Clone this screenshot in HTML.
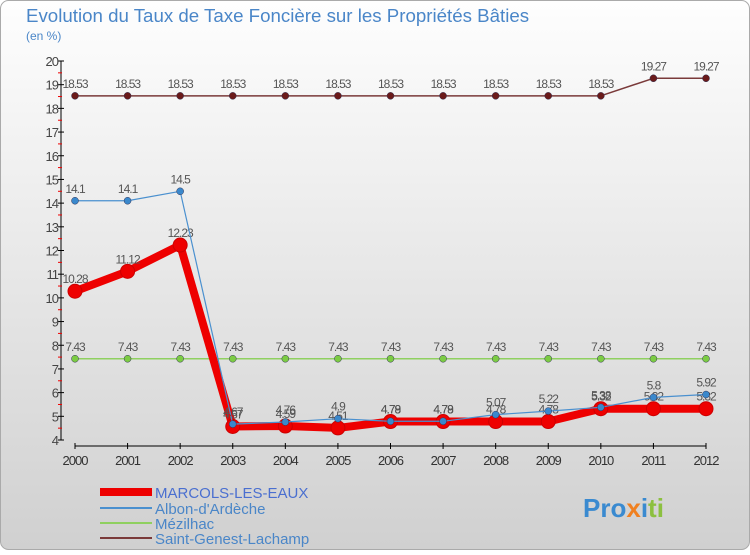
<!DOCTYPE html>
<html><head><meta charset="utf-8"><style>
body{margin:0;width:750px;height:550px;overflow:hidden;font-family:"Liberation Sans",sans-serif}
</style></head><body>
<svg id="c" width="750" height="550" xmlns="http://www.w3.org/2000/svg">
<defs><linearGradient id="bg" x1="0" y1="0" x2="0" y2="1"><stop offset="0" stop-color="#fefefe"/><stop offset="1" stop-color="#d0d0d0"/></linearGradient></defs>
<rect x="0.5" y="0.5" width="749" height="549" rx="8" fill="url(#bg)" stroke="#aaa"/>
<text x="26" y="22" font-size="18.7" fill="#4a86c8">Evolution du Taux de Taxe Foncière sur les Propriétés Bâties</text>
<text x="26" y="40" font-size="12" fill="#4a86c8">(en %)</text>
<g id="axes"></g><g id="series"></g>
<g>
<rect x="100" y="488" width="52" height="8" fill="#e00"/>
<text x="155" y="498" font-size="15" fill="#4a6fd0">MARCOLS-LES-EAUX</text>
<line x1="100" y1="508" x2="152" y2="508" stroke="#4a90cf" stroke-width="2"/>
<text x="155" y="514" font-size="15" fill="#4a86c8">Albon-d'Ardèche</text>
<line x1="100" y1="523" x2="152" y2="523" stroke="#8fd060" stroke-width="2"/>
<text x="155" y="529" font-size="15" fill="#4a86c8">Mézilhac</text>
<line x1="100" y1="538" x2="152" y2="538" stroke="#7a3a3a" stroke-width="2"/>
<text x="155" y="544" font-size="15" fill="#4a86c8">Saint-Genest-Lachamp</text>
</g>
<text x="583" y="517" font-size="26" font-weight="bold" fill="#3a8ad0">Pro<tspan fill="#f08020">x</tspan><tspan fill="#3a8ad0">i</tspan><tspan fill="#8cc040">ti</tspan></text>
</svg>
<script>
const years=[2000,2001,2002,2003,2004,2005,2006,2007,2008,2009,2010,2011,2012];
const yTicks=[4,5,6,7,8,9,10,11,12,13,14,15,16,17,18,19,20];
const marcols=[10.28,11.12,12.23,4.57,4.59,4.51,4.78,4.78,4.78,4.78,5.32,5.32,5.32];
const albon=[14.1,14.1,14.5,4.67,4.76,4.9,4.79,4.79,5.07,5.22,5.38,5.8,5.92];
const mezilhac=[7.43,7.43,7.43,7.43,7.43,7.43,7.43,7.43,7.43,7.43,7.43,7.43,7.43];
const stgenest=[18.53,18.53,18.53,18.53,18.53,18.53,18.53,18.53,18.53,18.53,18.53,19.27,19.27];
const NS="http://www.w3.org/2000/svg";
const xs=i=>75+i*(706-75)/12;
const ys=v=>440-(v-4)*(440-61)/16;
function mk(p,t,a){const e=document.createElementNS(NS,t);for(const k in a)e.setAttribute(k,a[k]);p.appendChild(e);return e;}
const ax=document.getElementById('axes'),sg=document.getElementById('series');
const yl=mk(ax,'line',{x1:61,y1:61,x2:61,y2:440,stroke:'#000'});


yTicks.forEach(v=>{const t=mk(ax,'line',{x1:58,x2:64,y1:ys(v),y2:ys(v),stroke:'#000'});


const m=mk(ax,'line',{x1:58,x2:62,y1:ys(v+0.5),y2:ys(v+0.5),stroke:'#e00'});
if(v==20)m.remove();
const l=mk(ax,'text',{x:58,y:ys(v)+5,'font-size':13,fill:'#444','text-anchor':'end','letter-spacing':'-1'});l.textContent=v;

});
const xl=mk(ax,'line',{x1:75,y1:446,x2:706,y2:446,stroke:'#000'});


years.forEach((y,i)=>{mk(ax,'line',{x1:xs(i),x2:xs(i),y1:443,y2:449,stroke:'#000'});
const l=mk(ax,'text',{x:xs(i),y:465,'font-size':13,fill:'#333','text-anchor':'middle','letter-spacing':'-1'});l.textContent=y;

});
function series(d,col,w,r,mcol,name){
const pl=mk(sg,'polyline',{points:d.map((v,i)=>xs(i)+','+ys(v)).join(' '),fill:'none',stroke:col,'stroke-width':w,'stroke-linejoin':'round'});


d.forEach((v,i)=>{const c=mk(sg,'circle',{cx:xs(i),cy:ys(v),r:r,fill:mcol,stroke:r>4?'#c00':'#335',"stroke-width":r>4?1:0.5});


const t=mk(sg,'text',{x:xs(i),y:ys(v)-8,'font-size':12,fill:'#555','text-anchor':'middle','letter-spacing':'-1'});t.textContent=v;

});}
series(stgenest,'#7a3a3a',1.5,3.5,'#6a1a1a','saint-genest');
series(mezilhac,'#8fd060',1.5,3.5,'#7ccc44','mezilhac');
series(marcols,'#e00',8,7,'#e00','marcols');
series(albon,'#4a90cf',1.2,3.5,'#3a88cc','albon');
</script>
</body></html>
